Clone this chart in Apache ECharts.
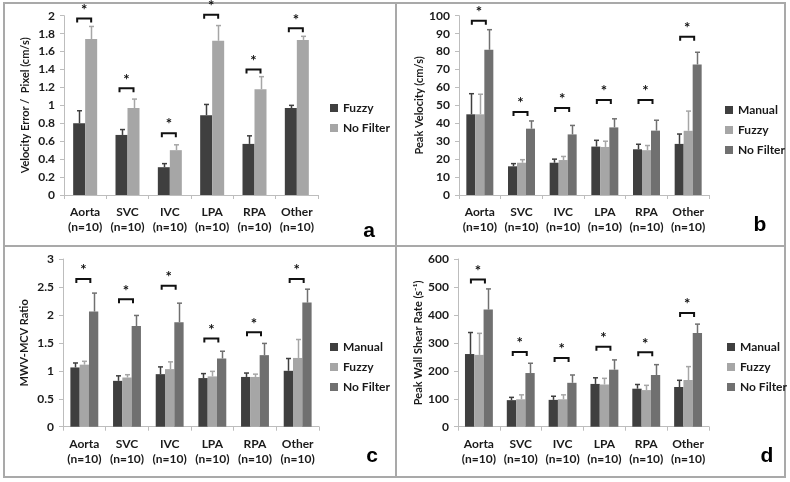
<!DOCTYPE html>
<html><head><meta charset="utf-8">
<script src="https://cdn.jsdelivr.net/npm/echarts@6/dist/echarts.min.js"></script>
<style>html,body{margin:0;padding:0;background:#fff}#c{width:790px;height:482px}</style>
</head><body><div id="c"></div>
<script>
// ---------- data ----------
const categories = ['Aorta', 'SVC', 'IVC', 'LPA', 'RPA', 'Other'];
const nLabels = ['(n=10)', '(n=10)', '(n=10)', '(n=10)', '(n=10)', '(n=10)'];

// Panel a: Velocity Error / Pixel (cm/s)
const aNames = ['Fuzzy', 'No Filter'];
const aFuzzy = [0.80, 0.67, 0.31, 0.89, 0.57, 0.97];
const aFuzzyUpper = [0.94, 0.73, 0.35, 1.01, 0.66, 1.00];
const aNoFilter = [1.74, 0.97, 0.50, 1.72, 1.18, 1.73];
const aNoFilterUpper = [1.88, 1.07, 0.56, 1.89, 1.32, 1.77];
const aBracket = [1.97, 1.19, 0.69, 2.01, 1.40, 1.86];
const aTicks = { min: 0, max: 2, interval: 0.2 };

// Panel b: Peak Velocity (cm/s)
const bNames = ['Manual', 'Fuzzy', 'No Filter'];
const bManual = [45, 16, 18, 27, 25.5, 28.5];
const bManualUpper = [56.5, 17.5, 20, 30.5, 28.3, 34];
const bFuzzy = [45, 18, 19.5, 26.8, 25, 35.8];
const bFuzzyUpper = [56.2, 19.7, 21.5, 30, 27.6, 46.8];
const bNoFilter = [81, 37, 33.8, 37.7, 35.9, 72.8];
const bNoFilterUpper = [92.2, 41.3, 38.8, 42.5, 41.7, 79.6];
const bBracket = [97.2, 46.3, 48.5, 53, 53, 88.3];
const bTicks = { min: 0, max: 100, interval: 10 };

// Panel c: MWV-MCV Ratio
const cNames = ['Manual', 'Fuzzy', 'No Filter'];
const cManual = [1.06, 0.82, 0.94, 0.87, 0.89, 1.00];
const cManualUpper = [1.14, 0.91, 1.07, 0.95, 0.96, 1.22];
const cFuzzy = [1.11, 0.88, 1.03, 0.90, 0.89, 1.23];
const cFuzzyUpper = [1.17, 0.93, 1.16, 0.99, 0.94, 1.56];
const cNoFilter = [2.06, 1.80, 1.87, 1.22, 1.28, 2.22];
const cNoFilterUpper = [2.39, 1.99, 2.21, 1.35, 1.49, 2.46];
const cBracket = [2.64, 2.28, 2.52, 1.58, 1.69, 2.64];
const cTicks = { min: 0, max: 3, interval: 0.5 };

// Panel d: Peak Wall Shear Rate (s-1)
const dNames = ['Manual', 'Fuzzy', 'No Filter'];
const dManual = [260, 95, 96, 153, 136, 142];
const dManualUpper = [337, 105, 109, 175, 151, 166];
const dFuzzy = [257, 98, 98, 151, 131, 167];
const dFuzzyUpper = [334, 114, 114, 173, 148, 215];
const dNoFilter = [419, 192, 157, 204, 185, 335];
const dNoFilterUpper = [493, 227, 185, 239, 222, 367];
const dBracket = [527, 267, 246, 286, 266, 407];
const dTicks = { min: 0, max: 600, interval: 100 };

// ---------- styling ----------
const FONT = 'Lato, "Liberation Sans", sans-serif';
const TXT = '#1a1a1a';
const DARK = '#3f3f3f', LIGHT = '#a6a6a6', MID = '#707070';
const AXIS = '#bdbdbd';

const panels = [
  { grid: { left: 64, top: 15.7, width: 254, height: 179.3 }, title: 'Velocity Error /  Pixel (cm/s)',
    names: aNames, colors: [DARK, LIGHT], means: [aFuzzy, aNoFilter], uppers: [aFuzzyUpper, aNoFilterUpper],
    bracket: aBracket, ticks: aTicks, barW: 12, legend: { left: 325, top: 96 }, letter: ['a', 369, 231] },
  { grid: { left: 459, top: 15.7, width: 250, height: 179.3 }, title: 'Peak Velocity (cm/s)',
    names: bNames, colors: [DARK, LIGHT, MID], means: [bManual, bFuzzy, bNoFilter], uppers: [bManualUpper, bFuzzyUpper, bNoFilterUpper],
    bracket: bBracket, ticks: bTicks, barW: 9, legend: { left: 720, top: 98 }, letter: ['b', 760, 225] },
  { grid: { left: 63, top: 259, width: 256, height: 167.7 }, title: 'MWV-MCV Ratio',
    names: cNames, colors: [DARK, LIGHT, MID], means: [cManual, cFuzzy, cNoFilter], uppers: [cManualUpper, cFuzzyUpper, cNoFilterUpper],
    bracket: cBracket, ticks: cTicks, barW: 9.3, legend: { left: 325, top: 335 }, letter: ['c', 372, 456] },
  { grid: { left: 458, top: 259, width: 251, height: 167.7 }, title: 'Peak Wall Shear Rate (s\u207B\u00B9)',
    names: dNames, colors: [DARK, LIGHT, MID], means: [dManual, dFuzzy, dNoFilter], uppers: [dManualUpper, dFuzzyUpper, dNoFilterUpper],
    bracket: dBracket, ticks: dTicks, barW: 9.3, legend: { left: 722, top: 335 }, letter: ['d', 767, 456] }
];

const grids = [], xAxes = [], yAxes = [], series = [], legends = [], graphics = [];

panels.forEach((p, gi) => {
  grids.push(Object.assign({ containLabel: false }, p.grid));
  xAxes.push({
    type: 'category', gridIndex: gi, data: categories,
    axisLine: { lineStyle: { color: AXIS, width: 1 } },
    axisTick: { show: true, length: 4, lineStyle: { color: AXIS } },
    axisLabel: { interval: 0, margin: 10, color: TXT, fontFamily: FONT, fontWeight: 'bold', fontSize: 12, lineHeight: 15,
      formatter: (v, i) => v + '\n' + nLabels[i] }
  });
  yAxes.push({
    type: 'value', gridIndex: gi, min: p.ticks.min, max: p.ticks.max, interval: p.ticks.interval,
    name: p.title, nameLocation: 'middle', nameRotate: 90, nameGap: 33,
    nameTextStyle: { color: TXT, fontFamily: FONT, fontWeight: 'bold', fontSize: 11 },
    axisLine: { show: true, lineStyle: { color: AXIS, width: 1 } },
    axisTick: { show: true, length: 4, lineStyle: { color: AXIS } },
    splitLine: { show: false },
    axisLabel: { margin: 9, color: TXT, fontFamily: FONT, fontWeight: 'bold', fontSize: 12 }
  });
  const n = p.names.length;
  p.names.forEach((nm, si) => {
    series.push({
      type: 'bar', name: nm, xAxisIndex: gi, yAxisIndex: gi, barWidth: p.barW, barGap: '0%',
      itemStyle: { color: p.colors[si] }, data: p.means[si], silent: true, z: 2
    });
  });
  p.names.forEach((nm, si) => {
    const offset = (si - (n - 1) / 2) * p.barW;
    const col = p.colors[si];
    series.push({
      type: 'custom', name: 'err' + gi + '_' + si, xAxisIndex: gi, yAxisIndex: gi, silent: true, z: 3,
      data: p.means[si].map((m, k) => [k, m, p.uppers[si][k]]),
      encode: { x: 0, y: [1, 2] },
      renderItem: (params, api) => {
        const k = api.value(0);
        const a = api.coord([k, api.value(1)]);
        const b = api.coord([k, api.value(2)]);
        const x = Math.round(a[0] + offset) + 0.5;
        return { type: 'group', children: [
          { type: 'line', shape: { x1: x, y1: a[1], x2: x, y2: b[1] }, style: { stroke: col, lineWidth: 1.5 } },
          { type: 'line', shape: { x1: x - 2.5, y1: b[1], x2: x + 2.5, y2: b[1] }, style: { stroke: col, lineWidth: 1.5 } }
        ] };
      }
    });
  });
  series.push({
    type: 'custom', name: 'sig' + gi, xAxisIndex: gi, yAxisIndex: gi, silent: true, z: 4,
    data: p.bracket.map((b, k) => [k, b]),
    encode: { x: 0, y: 1 },
    renderItem: (params, api) => {
      const c = api.coord([api.value(0), api.value(1)]);
      const cx = c[0] - 1, y = c[1];
      return { type: 'group', children: [
        { type: 'polyline', shape: { points: [[cx - 7, y + 4], [cx - 7, y], [cx + 7, y], [cx + 7, y + 4]] },
          style: { stroke: '#111', lineWidth: 2, fill: null } },
        { type: 'text', x: cx, y: y - 1, style: { text: '*', fill: '#111', font: 'bold 15px ' + FONT, textAlign: 'center', textVerticalAlign: 'bottom' } }
      ] };
    }
  });
  legends.push({
    orient: 'vertical', left: p.legend.left, top: p.legend.top, itemWidth: 8, itemHeight: 8, itemGap: 6,
    selectedMode: false, icon: 'rect',
    textStyle: { color: TXT, fontFamily: FONT, fontWeight: 'bold', fontSize: 12, lineHeight: 14 },
    data: p.names.map((nm, si) => ({ name: nm, itemStyle: { color: p.colors[si] } }))
  });
  graphics.push({ type: 'text', x: p.letter[1], y: p.letter[2], silent: true,
    style: { text: p.letter[0], fill: '#000', font: 'bold 21px "Liberation Sans", Arial, sans-serif', textAlign: 'center', textVerticalAlign: 'middle' } });
});

// panel frames
graphics.push({ type: 'rect', shape: { x: 4, y: 3, width: 781, height: 474 }, style: { stroke: '#a9a9a9', lineWidth: 2, fill: null }, silent: true });
graphics.push({ type: 'line', shape: { x1: 396, y1: 3, x2: 396, y2: 477 }, style: { stroke: '#a9a9a9', lineWidth: 2 }, silent: true });
graphics.push({ type: 'line', shape: { x1: 4, y1: 246, x2: 785, y2: 246 }, style: { stroke: '#a9a9a9', lineWidth: 2 }, silent: true });

const chart = echarts.init(document.getElementById('c'), null, { renderer: 'canvas' });
chart.setOption({
  animation: false, backgroundColor: '#fff',
  grid: grids, xAxis: xAxes, yAxis: yAxes, series: series, legend: legends, graphic: graphics
});
</script></body></html>
